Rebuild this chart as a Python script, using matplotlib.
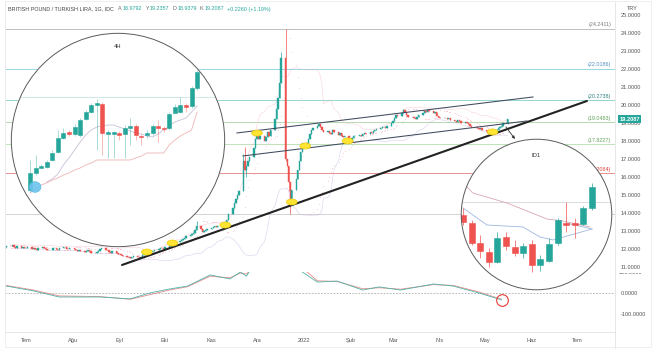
import numpy as np
import pandas as pd
import matplotlib
matplotlib.use("Agg")
import matplotlib.pyplot as plt
from matplotlib.patches import Circle, Ellipse, Rectangle
from matplotlib.transforms import Bbox
from matplotlib.lines import Line2D

plt.rcParams['font.family'] = ['Liberation Sans', 'DejaVu Sans']

# ---------------- daily closes, GBP/TRY ----------------
close_jun = [12.10, 12.18, 12.15, 12.20, 12.12, 12.08, 12.14, 12.05, 12.10, 12.04]
close_jul = [12.05, 12.10, 12.02, 12.08, 12.00, 11.95, 12.03, 12.10, 12.06, 11.98, 11.92,
             11.96, 12.04, 12.08, 12.02, 11.97, 12.05, 12.12, 12.09, 12.01, 11.98, 12.03]
close_aug = [12.00, 11.96, 11.90, 11.94, 11.88, 11.84, 11.90, 11.95, 11.87, 11.80, 11.76,
             11.82, 11.90, 11.98, 12.04, 11.96, 11.92, 11.85, 11.80, 11.86, 11.79, 11.74]
close_sep = [11.70, 11.66, 11.62, 11.58, 11.55, 11.52, 11.56, 11.60, 11.54, 11.50, 11.58,
             11.66, 11.72, 11.80, 11.85, 11.82, 11.90, 11.96, 12.02, 12.08, 12.04, 12.00]
close_oct = [12.10, 12.18, 12.25, 12.32, 12.30, 12.38, 12.45, 12.50, 12.58, 12.62, 12.70,
             12.78, 12.85, 12.90, 13.05, 13.25, 13.10, 12.95, 13.00, 13.08, 13.12]
close_nov = [13.15, 13.20, 13.25, 13.22, 13.30, 13.28, 13.35, 13.32, 13.60, 13.95, 14.30,
             14.55, 14.80, 15.00, 15.20, 16.90, 16.40, 16.60, 16.90, 17.10, 17.60, 18.10]
close_dec = [18.40, 18.10, 18.30, 18.00, 18.20, 18.50, 18.30, 18.60, 19.20, 19.80, 20.40,
             21.20, 22.60, 17.00, 16.60, 15.70, 14.70, 15.30, 15.90, 16.40, 16.90, 17.40, 17.90]
close_jan = [17.70, 18.10, 18.40, 18.60, 18.70, 18.85, 18.95, 18.75, 18.60, 18.50, 18.55,
             18.45, 18.40, 18.60, 18.50, 18.35, 18.45, 18.30, 18.20, 18.25, 18.02]
close_feb = [18.05, 18.15, 18.25, 18.30, 18.35, 18.30, 18.40, 18.45, 18.40, 18.50, 18.45,
             18.55, 18.60, 18.65, 18.70, 18.75, 18.80, 18.70, 18.85, 19.00]
close_mar = [19.10, 19.30, 19.45, 19.40, 19.55, 19.70, 19.60, 19.45, 19.35, 19.35, 19.25,
             19.20, 19.35, 19.45, 19.55, 19.65, 19.60, 19.70, 19.65, 19.55, 19.60, 19.40, 19.35]
close_apr = [19.30, 19.25, 19.30, 19.20, 19.25, 19.15, 19.10, 19.05, 19.15, 19.10, 19.00,
             19.05, 19.00, 18.95, 18.85, 18.80, 18.75, 18.70, 18.65, 18.70, 18.60]
close_may = [18.55, 18.45, 18.50, 18.40, 18.45, 18.60, 18.70, 18.80, 18.85, 18.9792, 19.2087]

first_open = 12.05
wick_high = {'2021-10-22': 13.55, '2021-11-22': 17.30, '2021-11-23': 17.65,
             '2021-12-17': 22.95, '2021-12-20': 24.2411, '2022-03-08': 19.80,
             '2022-05-16': 19.2357}
wick_low = {'2021-11-24': 16.00, '2021-12-20': 16.90, '2021-12-22': 15.20,
            '2021-12-23': 13.95, '2022-05-16': 18.9379}

# Fibonacci / key levels
levels = [24.2411, 22.0186, 20.2738, 19.0483, 17.8227, 16.2064]
level_line_colors = ['#b5b5b5', '#86d0e0', '#86cfc3', '#a9d6a4', '#b7ddb2', '#e88080']
level_text_colors = ['#7a7a7a', '#4c8fc4', '#2f8080', '#5fa357', '#5fa357', '#e53935']
support_level = 13.95

# oscillator panel (two smoothed lines)
osc_day = [-13, 5, 22, 49, 69, 82, 95, 107, 122, 135, 142, 146, 152, 165, 175, 183,
           193, 206, 223, 234, 248, 270, 283, 300, 315]
osc_fast = [33, 10, -19, -19, -28, 0, 19, 33, 86, 67, 100, 80, 150, 220, 160, 100,
            52, 57, 14, 29, 14, 43, 33, 0, -33]
osc_slow = [36, 14, -14, -17, -30, -8, 14, 30, 80, 72, 95, 90, 140, 210, 175, 120,
            58, 55, 20, 25, 18, 40, 36, 5, -30]

# highlighted touches (day offset, price)
touch_day = [80, 97, 132, 153, 176, 185, 213, 309]
touch_val = [11.83, 12.33, 13.33, 18.44, 14.61, 17.72, 18.00, 18.50]

# 4H inset candles
h4_open = [18.592, 18.694, 18.724, 18.730, 18.772, 18.820, 18.904, 18.940, 18.928, 18.922, 19.018,
           19.060, 19.102, 19.108, 18.931, 18.931, 18.934, 18.928, 18.964, 18.976, 18.919, 18.922,
           18.934, 18.976, 18.964, 18.964, 19.054, 19.060, 19.102, 19.096, 19.204]
h4_close = [18.694, 18.724, 18.736, 18.760, 18.814, 18.904, 18.934, 18.928, 18.970, 19.012, 19.060,
            19.102, 19.111, 18.934, 18.937, 18.937, 18.922, 18.964, 18.976, 18.922, 18.910, 18.934,
            18.976, 18.964, 18.958, 19.048, 19.090, 19.102, 19.093, 19.204, 19.300]
h4_high = [18.772, 18.802, 18.748, 18.772, 18.832, 18.952, 18.964, 18.952, 18.988, 19.024, 19.072,
           19.114, 19.138, 19.120, 18.952, 18.946, 18.946, 18.982, 19.024, 18.988, 18.928, 18.952,
           18.988, 19.012, 18.976, 19.060, 19.108, 19.150, 19.114, 19.216, 19.312]
h4_low = [18.580, 18.682, 18.724, 18.724, 18.766, 18.814, 18.898, 18.916, 18.916, 18.910, 19.012,
          19.054, 18.832, 18.802, 18.784, 18.784, 18.892, 18.784, 18.862, 18.892, 18.862, 18.904,
          18.922, 18.880, 18.940, 18.952, 19.072, 19.054, 19.060, 19.084, 19.192]
h4_band_up = [18.640, 18.658, 18.688, 18.742, 18.784, 18.832, 18.880, 18.922, 18.952, 18.970,
              18.976, 18.982, 18.982, 18.970, 18.958, 18.946, 18.934, 18.928, 18.916, 18.910,
              18.928, 18.952, 18.976, 19.000, 19.012, 19.024, 19.060, 19.096]
h4_band_lo = [18.574, 18.598, 18.622, 18.634, 18.652, 18.664, 18.682, 18.694, 18.712, 18.724,
              18.742, 18.754, 18.772, 18.772, 18.772, 18.772, 18.772, 18.772, 18.772, 18.784,
              18.796, 18.814, 18.814, 18.814, 18.814, 18.862, 18.892, 18.916, 18.934, 18.952, 19.060]

# D1 inset candles
d1_open = [18.956, 18.872, 18.662, 18.568, 18.463, 18.725, 18.620, 18.557, 18.652, 18.431,
           18.473, 18.662, 18.867, 18.867, 18.862, 19.030]
d1_close = [18.883, 18.662, 18.578, 18.463, 18.715, 18.631, 18.557, 18.631, 18.431, 18.494,
            18.652, 18.904, 18.856, 18.856, 19.030, 19.250]
d1_high = [19.030, 18.904, 18.746, 18.610, 18.778, 18.778, 18.694, 18.662, 18.694, 18.536,
           18.715, 18.925, 19.093, 18.925, 19.050, 19.292]
d1_low = [18.851, 18.641, 18.505, 18.410, 18.452, 18.589, 18.526, 18.505, 18.358, 18.368,
          18.463, 18.641, 18.778, 18.715, 18.851, 19.009]
d1_pink_x = [0.47, 1.16, 5.12, 9.77, 11.63, 14.77]
d1_pink_y = [19.250, 19.187, 19.082, 18.914, 18.893, 18.830]
d1_blue_x = [0.0, 2.79, 6.98, 8.95, 10.47, 15.0, 11.98]
d1_blue_y = [19.030, 18.851, 18.830, 18.725, 18.694, 18.809, 18.872]

month_days = [0, 31, 62, 92, 123, 153, 184, 215, 243, 274, 304, 335, 365]
month_labels = ['Tem', 'Ağu', 'Eyl', 'Eki', 'Kas', 'Ara', '2022', 'Şub', 'Mar', 'Nis',
                'May', 'Haz', 'Tem']

TEAL = '#26a69a'
RED = '#ef5350'
GRAY_TXT = '#555555'

# ---------------- figure / axes ----------------
W, H = 654, 349
fig = plt.figure(figsize=(W / 100, H / 100), dpi=100)


def fx(px):
    return px / W


def fy(py):
    return 1 - py / H


ax = fig.add_axes([fx(5), fy(272), fx(615) - fx(5), fy(2) - fy(272)])
osc = fig.add_axes([fx(5), fy(332), fx(615) - fx(5), fy(272) - fy(332)], sharex=ax)
ax.set_xlim(-13.9, 390.1)
ax.set_ylim(10.72, 25.72)
osc.set_ylim(-185.7, 100)

# ---------------- price candles ----------------
closes = np.array(close_jun + close_jul + close_aug + close_sep + close_oct + close_nov +
                  close_dec + close_jan + close_feb + close_mar + close_apr + close_may)
dates = pd.bdate_range('2021-06-17', '2022-05-16')
dates = dates[:len(closes)]
day = (dates - pd.Timestamp('2021-07-01')).days.values.astype(float)
opens = np.r_[first_open, closes[:-1]]
highs = np.maximum(opens, closes)
lows = np.minimum(opens, closes)
keys = [d.strftime('%Y-%m-%d') for d in dates]
for i, k in enumerate(keys):
    if k in wick_high:
        highs[i] = wick_high[k]
    if k in wick_low:
        lows[i] = wick_low[k]

colors = np.where(closes >= opens, TEAL, RED)

# bands and parabolic SAR
s = pd.Series(closes)
mid = s.rolling(20, min_periods=5).mean()
sd = s.rolling(20, min_periods=5).std()
ax.plot(day, mid + 2 * sd, color='#f4a7b9', lw=0.45, alpha=0.45, zorder=2)
ax.plot(day, mid - 2 * sd, color='#b39ddb', lw=0.45, alpha=0.45, zorder=2)


def psar(h, l, step=0.02, mx=0.2):
    n = len(h)
    out = np.empty(n)
    bull = True
    af = step
    ep = h[0]
    sar = l[0]
    out[0] = sar
    for i in range(1, n):
        sar = sar + af * (ep - sar)
        if bull:
            sar = min(sar, l[i - 1], l[max(i - 2, 0)])
            if l[i] < sar:
                bull, sar, ep, af = False, ep, l[i], step
            elif h[i] > ep:
                ep, af = h[i], min(af + step, mx)
        else:
            sar = max(sar, h[i - 1], h[max(i - 2, 0)])
            if h[i] > sar:
                bull, sar, ep, af = True, ep, h[i], step
            elif l[i] < ep:
                ep, af = l[i], min(af + step, mx)
        out[i] = sar
    return out


ax.scatter(day, psar(highs, lows), s=0.25, color='#f08aa0', alpha=0.6, linewidths=0, zorder=2)

ax.vlines(day, lows, highs, colors=colors, lw=0.5, zorder=3)
ax.bar(day, closes - opens, bottom=opens, width=0.9, color=colors, edgecolor=colors,
       linewidth=0.3, zorder=4)

# ---------------- levels ----------------
for v, lc, tc in zip(levels, level_line_colors, level_text_colors):
    ax.axhline(v, color=lc, lw=0.6, zorder=1)
    ax.text(387.6, v + 0.07, f'({v:.4f})', ha='right', va='bottom', fontsize=3.9,
            color=tc, zorder=1)
ax.axhline(support_level, color='#cccccc', lw=0.6, zorder=1)

# ---------------- trend lines and channel ----------------
ax.plot([63.6, 371.5], [11.11, 20.22], color='#222222', lw=1.5, solid_capstyle='round', zorder=5)
ax.plot([139.7, 335.8], [18.444, 20.444], color='#3f4a5e', lw=0.75, zorder=5)
ax.plot([143.7, 331.8], [17.167, 19.111], color='#3f4a5e', lw=0.75, zorder=5)
ax.annotate('', xy=(323.8, 18.11), xytext=(317.9, 18.78),
            arrowprops=dict(arrowstyle='-|>', color='#333333', lw=0.6,
                            mutation_scale=4, shrinkA=0, shrinkB=0), zorder=6)

for d, v in zip(touch_day, touch_val):
    ax.add_patch(Ellipse((d, v), 7.2, 0.34, facecolor='#ffe433', edgecolor='#e8c600',
                         lw=0.4, zorder=6))

# ---------------- axes styling ----------------
ax.yaxis.tick_right()
ax.set_yticks(np.arange(11, 26, 1))
ax.set_yticklabels([f'{v:.4f}' for v in np.arange(11, 26, 1)])
ax.tick_params(axis='y', length=0, pad=4, labelsize=4.1, colors=GRAY_TXT)
ax.tick_params(axis='x', length=0, labelbottom=False)
for name, sp in ax.spines.items():
    sp.set_color('#e3e3e3')
    sp.set_linewidth(0.6)
ax.spines['top'].set_visible(False)

# ---------------- oscillator ----------------
osc.axhline(0, color='#9e9e9e', lw=0.5, dashes=(2.5, 2), zorder=1)
osc.plot(osc_day, osc_slow, color='#e88a8a', lw=0.6, zorder=3)
osc.plot(osc_day, osc_fast, color='#4fb3a8', lw=0.6, zorder=4)
osc.plot([osc_day[-1]], [osc_fast[-1]], marker='o', ms=8.4, mfc='none', mec='#e53935',
         mew=0.8, zorder=6)
osc.yaxis.tick_right()
osc.set_yticks([0, -100])
osc.set_yticklabels(['0.0000', '-100.0000'])
osc.tick_params(axis='y', length=0, pad=4, labelsize=4.1, colors=GRAY_TXT)
osc.set_xticks(month_days)
osc.set_xticklabels(month_labels)
osc.tick_params(axis='x', length=0, pad=4, labelsize=4.1, colors=GRAY_TXT)
for name, sp in osc.spines.items():
    sp.set_color('#e3e3e3')
    sp.set_linewidth(0.6)
osc.spines['top'].set_visible(False)

t100 = osc.text(1.0, 100, '100.0000', transform=osc.get_yaxis_transform(), ha='left',
                va='center', fontsize=4.1, color=GRAY_TXT)
t100.set_position((1.0065, 100))
t100.set_clip_on(True)
t100.set_clip_box(Bbox.from_extents(600, 0, W, H - 273))

# ---------------- circular insets ----------------
def circle_inset(x0, y0, x1, y1, xlim, ylim, title, title_frac):
    a = fig.add_axes([fx(x0), fy(y1), (x1 - x0) / W, (y1 - y0) / H])
    a.set_xlim(*xlim)
    a.set_ylim(*ylim)
    a.axis('off')
    a.patch.set_visible(False)
    bg = Circle((0.5, 0.5), 0.5, transform=a.transAxes, facecolor='white',
                edgecolor='none', zorder=0)
    a.add_patch(bg)
    a.text(0.5, title_frac, title, transform=a.transAxes, ha='center', va='center',
           fontsize=4.2, color='#333333', zorder=8)
    return a, bg


def finish_inset(a, bg):
    for art in a.get_children():
        if art is not bg and hasattr(art, 'set_clip_path') and art not in (a.patch,):
            try:
                art.set_clip_path(bg)
            except Exception:
                pass
    a.add_patch(Circle((0.5, 0.5), 0.4985, transform=a.transAxes, fill=False,
                       edgecolor='#5a5a5a', lw=0.7, clip_on=False, zorder=20))


def draw_candles(a, o, c, h, l, width, wick_alpha=1.0):
    o, c, h, l = map(np.asarray, (o, c, h, l))
    xs = np.arange(len(o))
    col = np.where(c >= o, TEAL, RED)
    a.vlines(xs, l, h, colors=col, lw=0.5, alpha=wick_alpha, zorder=3)
    a.bar(xs, c - o, bottom=o, width=width, color=col, edgecolor=col, linewidth=0.4, zorder=4)


# 4H
a4, bg4 = circle_inset(11, 33, 225, 247, (-3.41, 35.01), (18.25, 19.534), '4H', 0.935)
a4.axhline(19.15, color='#c9e7e3', lw=0.6, zorder=1)
a4.plot(np.arange(3, 31), h4_band_up, color='#c7c0d8', lw=0.6, zorder=2)
a4.plot(np.arange(0, 31), h4_band_lo, color='#f0b4b4', lw=0.6, zorder=2)
draw_candles(a4, h4_open, h4_close, h4_high, h4_low, 0.72, wick_alpha=0.55)
a4.add_patch(Ellipse((0.9, 18.61), 2.15, 0.064, facecolor='#6cc4ee', edgecolor='#4aaee0',
                     lw=0.4, alpha=0.9, zorder=6))
finish_inset(a4, bg4)

# D1
ad, bgd = circle_inset(461, 139, 612, 290, (-0.23, 17.33), (18.1685, 19.754), 'ID1', 0.894)
ad.axhline(19.093, color='#d6d6d6', lw=0.6, zorder=1)
ad.plot(d1_pink_x, d1_pink_y, color='#d8a8b0', lw=0.6, zorder=2)
ad.plot(d1_blue_x[:6], d1_blue_y[:6], color='#9fb7e0', lw=0.6, zorder=2)
ad.plot(d1_blue_x[6:] + [d1_blue_x[5]], d1_blue_y[6:] + [d1_blue_y[5]], color='#9fb7e0',
        lw=0.6, zorder=2)
draw_candles(ad, d1_open, d1_close, d1_high, d1_low, 0.7)
finish_inset(ad, bgd)

# ---------------- header, price tag, frame ----------------
fig.text(fx(632), fy(9), 'TRY', fontsize=4.0, color=GRAY_TXT, ha='center', va='center',
         bbox=dict(facecolor='white', edgecolor='none', pad=0.6), zorder=10)
fig.text(fx(629.5), fy(119.2), f'{close_may[-1]:.4f}', fontsize=4.1, color='white',
         ha='center', va='center', fontweight='bold',
         bbox=dict(boxstyle='square,pad=0.25', facecolor=TEAL, edgecolor='none'), zorder=10)

fig.canvas.draw()
renderer = fig.canvas.get_renderer()
pieces = [('BRITISH POUND / TURKISH LIRA, 1G, IDC', '#444444', 4.5),
          ('A', '#666666', 1.0), ('18.9792', TEAL, 3.0),
          ('Y', '#666666', 1.0), ('19.2357', TEAL, 3.0),
          ('D', '#666666', 1.0), ('18.9379', TEAL, 3.0),
          ('K', '#666666', 1.0), ('19.2087', TEAL, 3.0),
          ('+0.2260 (+1.19%)', TEAL, 0)]
xpos = 8.0
for txt, col, gap in pieces:
    t = fig.text(fx(xpos), fy(9), txt, color=col, fontsize=3.9, ha='left', va='center')
    xpos += t.get_window_extent(renderer=renderer).width + gap

fig.add_artist(Line2D([fx(615), fx(615)], [fy(332), fy(349)], color='#e3e3e3', lw=0.6))
fig.add_artist(Rectangle((fx(5), fy(347)), fx(651) - fx(5), fy(1) - fy(347), fill=False,
                         edgecolor='#ececec', lw=0.6, transform=fig.transFigure))

fig.savefig('out.png', dpi=100, facecolor='white')
